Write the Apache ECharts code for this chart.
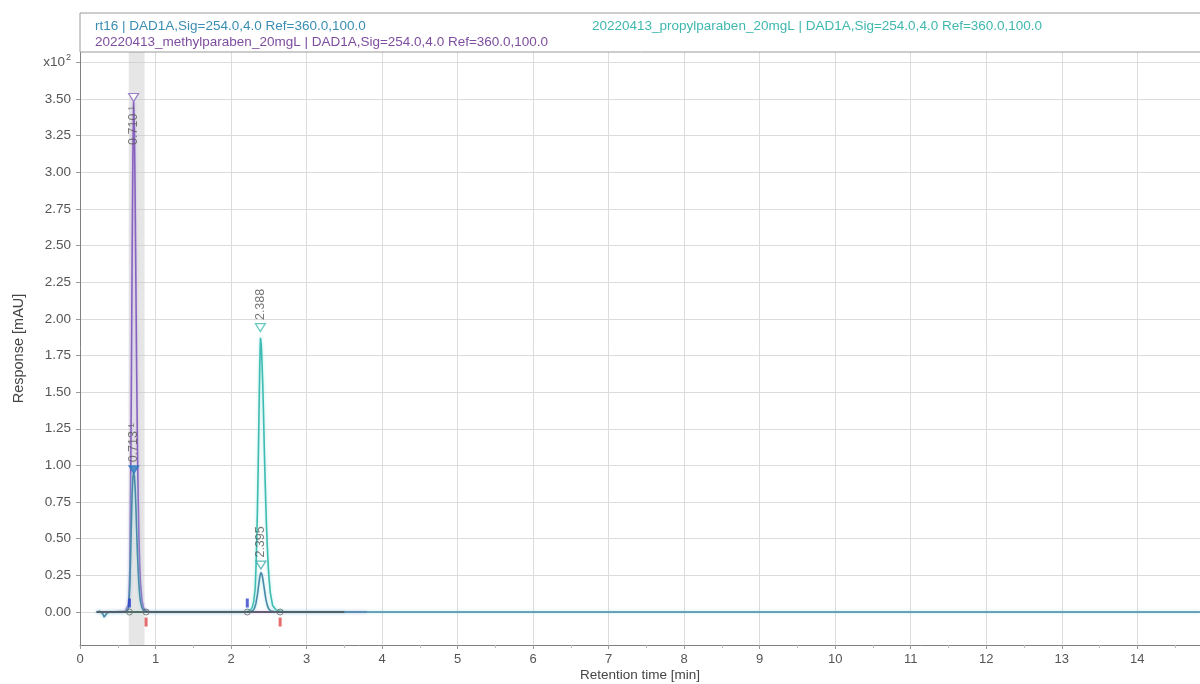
<!DOCTYPE html>
<html>
<head>
<meta charset="utf-8">
<script src="https://cdn.jsdelivr.net/npm/echarts@6/dist/echarts.min.js"></script>
<style>
html,body{margin:0;padding:0;background:#fff;}
#chart{width:1200px;height:684px;}
</style>
</head>
<body>
<div id="chart"></div>
<script>
// ---- data (response in x10^2 mAU, time in min) ----
const rt16Time = [0.22,0.26,0.28,0.30,0.32,0.33,0.34,0.36,0.40,0.50,0.60,0.63,0.64,0.65,0.66,0.67,0.68,0.69,0.70,0.71,0.72,0.73,0.74,0.75,0.76,0.77,0.78,0.79,0.80,0.82,0.84,0.88,0.95,1.50,2.20,2.26,2.29,2.31,2.33,2.35,2.37,2.38,2.395,2.41,2.42,2.44,2.46,2.48,2.50,2.53,2.58,2.65,2.80,14.83];
const rt16Value = [0,0.005,0.01,-0.01,-0.035,-0.04,-0.025,-0.005,0,-0.002,0.002,0.01,0.03,0.08,0.18,0.38,0.60,0.80,0.92,0.95,0.93,0.85,0.72,0.56,0.41,0.29,0.19,0.12,0.075,0.03,0.012,0.003,0,0,0,0.003,0.01,0.025,0.06,0.12,0.20,0.24,0.27,0.255,0.23,0.16,0.09,0.045,0.02,0.007,0.002,0,0,0];

const methylTime = [0.22,0.40,0.60,0.62,0.64,0.65,0.66,0.67,0.68,0.69,0.70,0.71,0.72,0.73,0.74,0.75,0.76,0.77,0.78,0.79,0.80,0.82,0.84,0.86,0.90,0.95,2.00,3.80];
const methylValue = [0,0,0.005,0.015,0.05,0.12,0.30,0.80,1.55,2.40,3.10,3.48,3.30,2.85,2.25,1.65,1.15,0.78,0.50,0.32,0.20,0.08,0.03,0.012,0.004,0,0,0];

const propylTime = [0.22,1.00,2.10,2.20,2.25,2.28,2.30,2.32,2.33,2.34,2.35,2.36,2.37,2.38,2.39,2.40,2.41,2.42,2.43,2.44,2.45,2.46,2.47,2.48,2.49,2.50,2.52,2.55,2.60,2.70,2.80,3.50];
const propylValue = [0,0,0,0.002,0.01,0.03,0.07,0.16,0.30,0.48,0.72,1.00,1.35,1.68,1.87,1.82,1.70,1.55,1.35,1.12,0.92,0.74,0.58,0.45,0.34,0.25,0.13,0.045,0.012,0.003,0,0];

const baselineTime = [0.22, 3.50];
const baselineValue = [0, 0];

const peakTime = [0.710, 0.713, 2.388, 2.395];
const peakMarkY = [3.51, 0.97, 1.94, 0.32];
const peakLabels = ['0.710 ¹', '0.713 ¹', '2.388', '2.395'];

const eventStart = [0.655, 2.215];
const eventEnd = [0.875, 2.65];

const shadeRange = [0.645, 0.855];

const yTicks = [0,0.25,0.5,0.75,1,1.25,1.5,1.75,2,2.25,2.5,2.75,3,3.25,3.5,3.75];

const legendTexts = [
  'rt16 | DAD1A,Sig=254.0,4.0 Ref=360.0,100.0',
  '20220413_methylparaben_20mgL | DAD1A,Sig=254.0,4.0 Ref=360.0,100.0',
  '20220413_propylparaben_20mgL | DAD1A,Sig=254.0,4.0 Ref=360.0,100.0'
];
const xName = 'Retention time [min]';
const yName = 'Response [mAU]';

// ---- build ----
const zip = (a, b) => a.map((t, i) => [t, b[i]]);
const FONT = '"Liberation Sans", Arial, sans-serif';
const C_RT16 = '#4a8aa8';
const C_METHYL = '#8763bf';
const C_PROPYL = '#3fbcb1';

const chart = echarts.init(document.getElementById('chart'), null, {renderer: 'canvas'});

const peakItems = [
  {value: [peakTime[0], peakMarkY[0]], itemStyle: {color: '#fff', borderColor: C_METHYL, borderWidth: 1.2},
   label: {show: true, formatter: peakLabels[0], position: 'bottom', distance: 4, rotate: 90, align: 'right', verticalAlign: 'middle'}},
  {value: [peakTime[1], peakMarkY[1]], itemStyle: {color: '#2a78c0', borderColor: '#2a78c0', borderWidth: 1},
   label: {show: true, formatter: peakLabels[1], position: 'top', distance: 3, rotate: 90, align: 'left', verticalAlign: 'middle'}},
  {value: [peakTime[2], peakMarkY[2]], itemStyle: {color: '#fff', borderColor: C_PROPYL, borderWidth: 1.2},
   label: {show: true, formatter: peakLabels[2], position: 'top', distance: 3, rotate: 90, align: 'left', verticalAlign: 'middle'}},
  {value: [peakTime[3], peakMarkY[3]], itemStyle: {color: '#fff', borderColor: '#3aa8a8', borderWidth: 1.2},
   label: {show: true, formatter: peakLabels[3], position: 'top', distance: 3, rotate: 90, align: 'left', verticalAlign: 'middle'}}
];

const option = {
  animation: false,
  backgroundColor: '#fff',
  grid: {left: 80, right: 0, top: 52, bottom: 39, containLabel: false, outerBoundsMode: 'none'},
  xAxis: {
    type: 'value', min: 0, max: 14.83, interval: 1,
    name: xName, nameLocation: 'middle', nameGap: 23, nameMoveOverlap: false,
    nameTextStyle: {color: '#444', fontSize: 13.5, fontFamily: FONT},
    axisLine: {show: true, onZero: false, lineStyle: {color: '#808080', width: 1}},
    axisTick: {show: true, length: 4, lineStyle: {color: '#999'}},
    minorTick: {show: true, splitNumber: 2, length: 3, lineStyle: {color: '#bbb'}},
    axisLabel: {color: '#555', fontSize: 13, fontFamily: FONT, margin: 8, showMaxLabel: false},
    splitLine: {show: true, lineStyle: {color: '#dcdcdc', width: 1}},
    minorSplitLine: {show: false}
  },
  yAxis: {
    type: 'value', min: -0.225, max: 3.82,
    name: yName, nameLocation: 'middle', nameGap: 54, nameRotate: 90, nameMoveOverlap: false,
    nameTextStyle: {color: '#444', fontSize: 14.5, fontFamily: FONT},
    axisLine: {show: true, onZero: false, lineStyle: {color: '#808080', width: 1}},
    axisTick: {show: true, length: 4, customValues: yTicks, lineStyle: {color: '#999'}},
    axisLabel: {
      color: '#555', fontSize: 13.5, fontFamily: FONT, margin: 9, customValues: yTicks,
      formatter: v => Math.abs(v - 3.75) < 1e-6 ? '{a|x10}{s|2}' : v.toFixed(2),
      rich: {a: {fontSize: 13.5, color: '#555', fontFamily: FONT}, s: {fontSize: 9, color: '#555', fontFamily: FONT, padding: [0, 0, 9, 1]}}
    },
    splitLine: {show: true, lineStyle: {color: '#dcdcdc', width: 1}}
  },
  graphic: [
    {type: 'rect', shape: {x: 80, y: 13, width: 1125, height: 39}, style: {fill: '#fff', stroke: '#9a9a9a', lineWidth: 1}, z: 100, silent: true},
    {type: 'text', x: 95, y: 26, style: {text: legendTexts[0], fill: '#3a8db3', font: '13.5px ' + FONT, textVerticalAlign: 'middle'}, z: 101, silent: true},
    {type: 'text', x: 95, y: 42, style: {text: legendTexts[1], fill: '#7e4d9f', font: '13.5px ' + FONT, textVerticalAlign: 'middle'}, z: 101, silent: true},
    {type: 'text', x: 592, y: 26, style: {text: legendTexts[2], fill: '#3fb8ae', font: '13.5px ' + FONT, textVerticalAlign: 'middle'}, z: 101, silent: true}
  ],
  series: [
    {
      name: 'propylparaben', type: 'line', data: zip(propylTime, propylValue),
      showSymbol: false, symbol: 'none', z: 3,
      lineStyle: {color: C_PROPYL, width: 1.6, shadowColor: 'rgba(150,230,225,0.8)', shadowBlur: 3}
    },
    {
      name: 'methylparaben', type: 'line', data: zip(methylTime, methylValue),
      showSymbol: false, symbol: 'none', z: 4,
      lineStyle: {color: C_METHYL, width: 1.6, shadowColor: 'rgba(190,160,230,0.7)', shadowBlur: 3},
      markArea: {
        silent: true,
        itemStyle: {color: 'rgba(200,200,200,0.45)'},
        data: [[{xAxis: shadeRange[0]}, {xAxis: shadeRange[1]}]]
      }
    },
    {
      name: 'rt16', type: 'line', data: zip(rt16Time, rt16Value),
      showSymbol: false, symbol: 'none', z: 5,
      lineStyle: {color: C_RT16, width: 1.6, shadowColor: 'rgba(160,225,230,0.9)', shadowBlur: 3}
    },
    {
      name: 'baseline', type: 'line', data: zip(baselineTime, baselineValue),
      showSymbol: false, symbol: 'none', z: 6,
      lineStyle: {color: '#505050', width: 1.4}
    },
    {
      name: 'startTicks', type: 'scatter', z: 7, silent: true,
      data: eventStart.map(t => [t, 0]),
      symbol: 'rect', symbolSize: [3, 9], symbolOffset: [0, -9],
      itemStyle: {color: '#3040c8'}
    },
    {
      name: 'endTicks', type: 'scatter', z: 7, silent: true,
      data: eventEnd.map(t => [t, 0]),
      symbol: 'rect', symbolSize: [3, 9], symbolOffset: [0, 10],
      itemStyle: {color: '#e04848'}
    },
    {
      name: 'events', type: 'scatter', z: 8, silent: true,
      data: eventStart.concat(eventEnd).map(t => [t, 0]),
      symbol: 'circle', symbolSize: 6,
      itemStyle: {color: 'rgba(255,255,255,0)', borderColor: '#666', borderWidth: 1}
    },
    {
      name: 'peaks', type: 'scatter', z: 9, silent: true,
      symbol: 'triangle', symbolRotate: 180, symbolSize: [10, 8],
      label: {color: '#555', fontSize: 12.5, fontFamily: FONT},
      data: peakItems
    }
  ]
};
chart.setOption(option);
</script>
</body>
</html>
